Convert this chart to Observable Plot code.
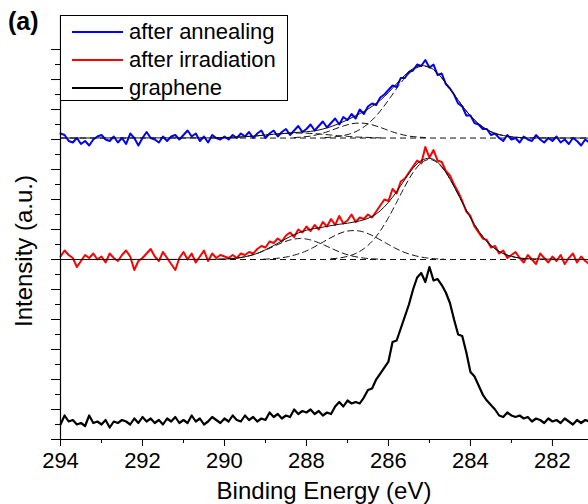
<!DOCTYPE html>
<html><head><meta charset="utf-8">
<script src="https://cdn.jsdelivr.net/npm/d3@7"></script>
<script src="https://cdn.jsdelivr.net/npm/@observablehq/plot@0.6"></script>
<style>body{margin:0;background:#fff}svg{display:block}</style>
</head><body><div id="chart"></div>
<script>
// ---- data (binding energy grid: 294.0 eV down in 0.1 eV steps) ----
const energyStart = 294.0, energyStep = 0.1;
const annealing = [
204,203,199,198,201,197,199,196,200,202,
203,200,199,202,198,201,197,204,201,196,
201,205,201,200,198,202,199,202,203,200,
203,206,202,204,199,202,198,203,201,200,
202,200,203,201,204,202,205,201,204,206,
201,204,206,202,205,207,203,206,209,205,
207,210,206,209,212,208,211,214,210,215,
213,217,214,220,217,222,224,223,228,230,
233,236,235,241,241,245,246,250,249,253,
248,250,243,244,237,234,230,224,222,216,
216,211,210,207,207,203,204,201,199,203,
200,201,198,202,200,199,203,200,198,201,
199,202,198,200,197,201,199,196,200,198];
const irradiation = [
122,126,123,121,115,119,123,121,124,120,
122,118,124,121,119,123,126,122,113,119,
121,124,127,122,119,125,121,117,113,121,
125,120,124,118,122,126,119,124,121,123,
122,121,123,121,124,123,125,124,127,129,
128,132,131,134,132,136,138,135,140,138,
142,139,143,140,145,142,147,143,149,144,
146,150,145,148,147,150,148,152,156,160,
159,167,164,172,174,178,182,186,184,195,
188,193,186,185,179,176,170,165,159,152,
149,142,138,134,133,128,129,124,126,121,
123,125,121,118,123,120,117,124,121,118,
122,119,123,117,121,124,118,122,119,117];
const graphene = [
10,16,12,13,10,11,9,16,11,12,
10,13,8,12,11,13,12,10,14,11,
15,12,14,11,13,10,14,12,15,11,
13,11,16,12,14,10,12,15,13,11,
14,12,16,13,12,16,13,15,12,14,
13,18,15,17,14,16,15,20,17,19,
18,20,17,19,16,18,17,22,25,22,
26,24,25,24,28,33,34,40,44,48,
52,65,66,74,82,90,100,108,111,105,
115,106,107,103,98,91,80,70,69,58,
45,42,36,30,26,23,20,16,15,18,
16,15,16,14,15,12,14,13,11,14,
12,13,11,14,12,10,13,11,13,12];

// fitted curves (heights above each baseline), sampled every 0.2 eV
const fitStep = 0.2;
const annealBaseline = 201, irradBaseline = 120;
const annealMainStart = 287.55;
const annealMain = [0.3,0.7,1.4,2.7,4.9,8.4,13.3,19.7,27.2,34.9,41.6,46.3,48.0,46.3,41.6,34.9,27.2,19.7,13.3,8.4,4.9,2.7,1.4,0.7,0.3];
const annealC2Start = 288.3;
const annealC2 = [0.3,0.7,1.3,2.5,4.1,6.1,8.0,9.5,10.0,9.5,8.0,6.1,4.1,2.5,1.3,0.7,0.3];
const annealC3Start = 290.2;
const annealC3 = [0.1,0.3,0.5,0.7,1.1,1.5,2.0,2.5,2.9,3.2,3.3,3.2,2.9,2.5,2.0,1.5,1.1,0.7,0.5,0.3,0.1];
const annealEnvStart = 290.4;
const annealEnv = [0.1,0.1,0.3,0.5,0.7,1.1,1.5,2.0,2.5,2.9,3.4,3.8,4.2,4.8,6.0,7.6,9.7,12.1,14.9,17.7,21.1,25.2,30.3,36.3,41.9,46.3,48.3,47.3,43.1,36.7,29.1,21.5,14.8,9.5,5.7,3.1,1.7,0.8,0.3,0.1];
const irradMainStart = 287.4;
const irradMain = [0.5,1.0,2.1,4.0,7.2,12.1,19.1,27.9,38.2,48.7,58.0,64.4,66.7,64.4,58.0,48.7,38.2,27.9,19.1,12.1,7.2,4.0,2.1,1.0,0.5];
const irradC2Start = 289.05;
const irradC2 = [0.2,0.5,1.0,1.9,3.3,5.2,7.8,10.8,13.9,16.7,18.7,19.3,18.7,16.7,13.9,10.8,7.8,5.2,3.3,1.9,1.0,0.5,0.2];
const irradC3Start = 290.15;
const irradC3 = [0.2,0.4,0.8,1.6,2.8,4.6,6.9,9.4,11.7,13.4,14.0,13.4,11.7,9.4,6.9,4.6,2.8,1.6,0.8,0.4,0.2];
const irradEnvStart = 290.4;
const irradEnv = [0.1,0.1,0.3,0.7,1.3,2.5,4.1,6.5,9.3,12.4,15.3,17.7,19.5,20.7,21.6,22.6,23.5,24.2,25.2,26.5,28.7,32.5,38.1,45.3,53.4,60.9,66.0,67.5,64.9,58.2,48.7,38.2,27.9,19.1,12.1,7.2,4.0,2.1,1.0,0.5];

const seriesNames = ["after annealing", "after irradiation", "graphene"];
const seriesColors = ["#0000ff", "#ff0000", "#000000"];
const xMajorTicks = [294, 292, 290, 288, 286, 284, 282];
const xMinorTicks = [293, 291, 289, 287, 285, 283];
const yMajorTicks = [0,20,40,60,80,100,120,140,160,180,200,220,240,260];
const yMinorTicks = [10,30,50,70,90,110,130,150,170,190,210,230,250];
const xDomain = [294, 281.12];
const xLabel = "Binding Energy (eV)";
const yLabel = "Intensity (a.u.)";
const panelLabel = "(a)";

// ---- build tables ----
const spectrum = arr => arr.map((v, i) => ({E: +(energyStart - i * energyStep).toFixed(2), v}));
const fit = (start, arr, base) => arr.map((h, i) => ({E: +(start - i * fitStep).toFixed(3), v: base + h}));
const envelope = (start, arr, base) => [{E: xDomain[0], v: base}, ...fit(start, arr, base), {E: xDomain[1], v: base}];

const font = "'Liberation Sans', Arial, Helvetica, sans-serif";
const dash = "6,4";
const comp = (start, arr, base) => Plot.line(fit(start, arr, base), {x: "E", y: "v", stroke: "#111", strokeWidth: 1, strokeDasharray: dash, curve: "monotone-x"});

const plot = Plot.plot({
  width: 588, height: 504,
  marginLeft: 60, marginRight: 0, marginTop: 15, marginBottom: 65,
  style: {fontFamily: font, background: "#fff", color: "#000"},
  x: {domain: xDomain, label: null, axis: null},
  y: {domain: [0, 282.7], label: null, axis: null},
  marks: [
    Plot.ruleY([annealBaseline, irradBaseline], {stroke: "#111", strokeWidth: 1, strokeDasharray: dash}),
    Plot.line(spectrum(annealing), {x: "E", y: "v", stroke: seriesColors[0], strokeWidth: 2}),
    Plot.line(spectrum(irradiation), {x: "E", y: "v", stroke: seriesColors[1], strokeWidth: 2}),
    Plot.line(spectrum(graphene), {x: "E", y: "v", stroke: seriesColors[2], strokeWidth: 2.2}),
    comp(annealMainStart, annealMain, annealBaseline),
    comp(annealC2Start, annealC2, annealBaseline),
    comp(annealC3Start, annealC3, annealBaseline),
    comp(irradMainStart, irradMain, irradBaseline),
    comp(irradC2Start, irradC2, irradBaseline),
    comp(irradC3Start, irradC3, irradBaseline),
    Plot.line(envelope(annealEnvStart, annealEnv, annealBaseline), {x: "E", y: "v", stroke: "#111", strokeWidth: 1, curve: "monotone-x"}),
    Plot.line(envelope(irradEnvStart, irradEnv, irradBaseline), {x: "E", y: "v", stroke: "#111", strokeWidth: 1, curve: "monotone-x"}),
    Plot.axisX({ticks: xMajorTicks, tickSize: 7, tickPadding: 6, fontSize: 22, label: null, tickFormat: d => String(d)}),
    Plot.axisX({ticks: xMinorTicks, tickSize: 4, label: null, tickFormat: () => ""}),
    Plot.axisY({ticks: yMajorTicks, tickSize: 9, label: null, tickFormat: () => ""}),
    Plot.axisY({ticks: yMinorTicks, tickSize: 5, label: null, tickFormat: () => ""}),
    Plot.ruleX([xDomain[0]], {stroke: "#000", strokeWidth: 1.2}),
    Plot.ruleY([0], {stroke: "#000", strokeWidth: 1.2})
  ]
});

const svg = d3.select(plot);
svg.append("text").attr("x", 8).attr("y", 30).attr("text-anchor", "start").attr("font-family", font)
  .attr("font-size", 25).attr("font-weight", "bold").attr("fill", "#000").text(panelLabel);
svg.append("text").attr("x", 324).attr("y", 499).attr("text-anchor", "middle")
  .attr("font-family", font).attr("font-size", 24).attr("fill", "#000").text(xLabel);
svg.append("text").attr("transform", "translate(32,251) rotate(-90)").attr("text-anchor", "middle")
  .attr("font-family", font).attr("font-size", 24).attr("fill", "#000").text(yLabel);

const lg = svg.append("g");
lg.append("rect").attr("x", 60.5).attr("y", 15.5).attr("width", 227).attr("height", 85)
  .attr("fill", "#fff").attr("stroke", "#000").attr("stroke-width", 1);
seriesNames.forEach((name, i) => {
  const cy = 32 + i * 28;
  lg.append("line").attr("x1", 72).attr("x2", 123).attr("y1", cy).attr("y2", cy)
    .attr("stroke", seriesColors[i]).attr("stroke-width", 2);
  lg.append("text").attr("x", 129).attr("y", cy + 7).attr("text-anchor", "start").attr("font-family", font)
    .attr("font-size", 22).attr("fill", "#000").text(name);
});

document.getElementById("chart").append(plot);
</script>
</body></html>
